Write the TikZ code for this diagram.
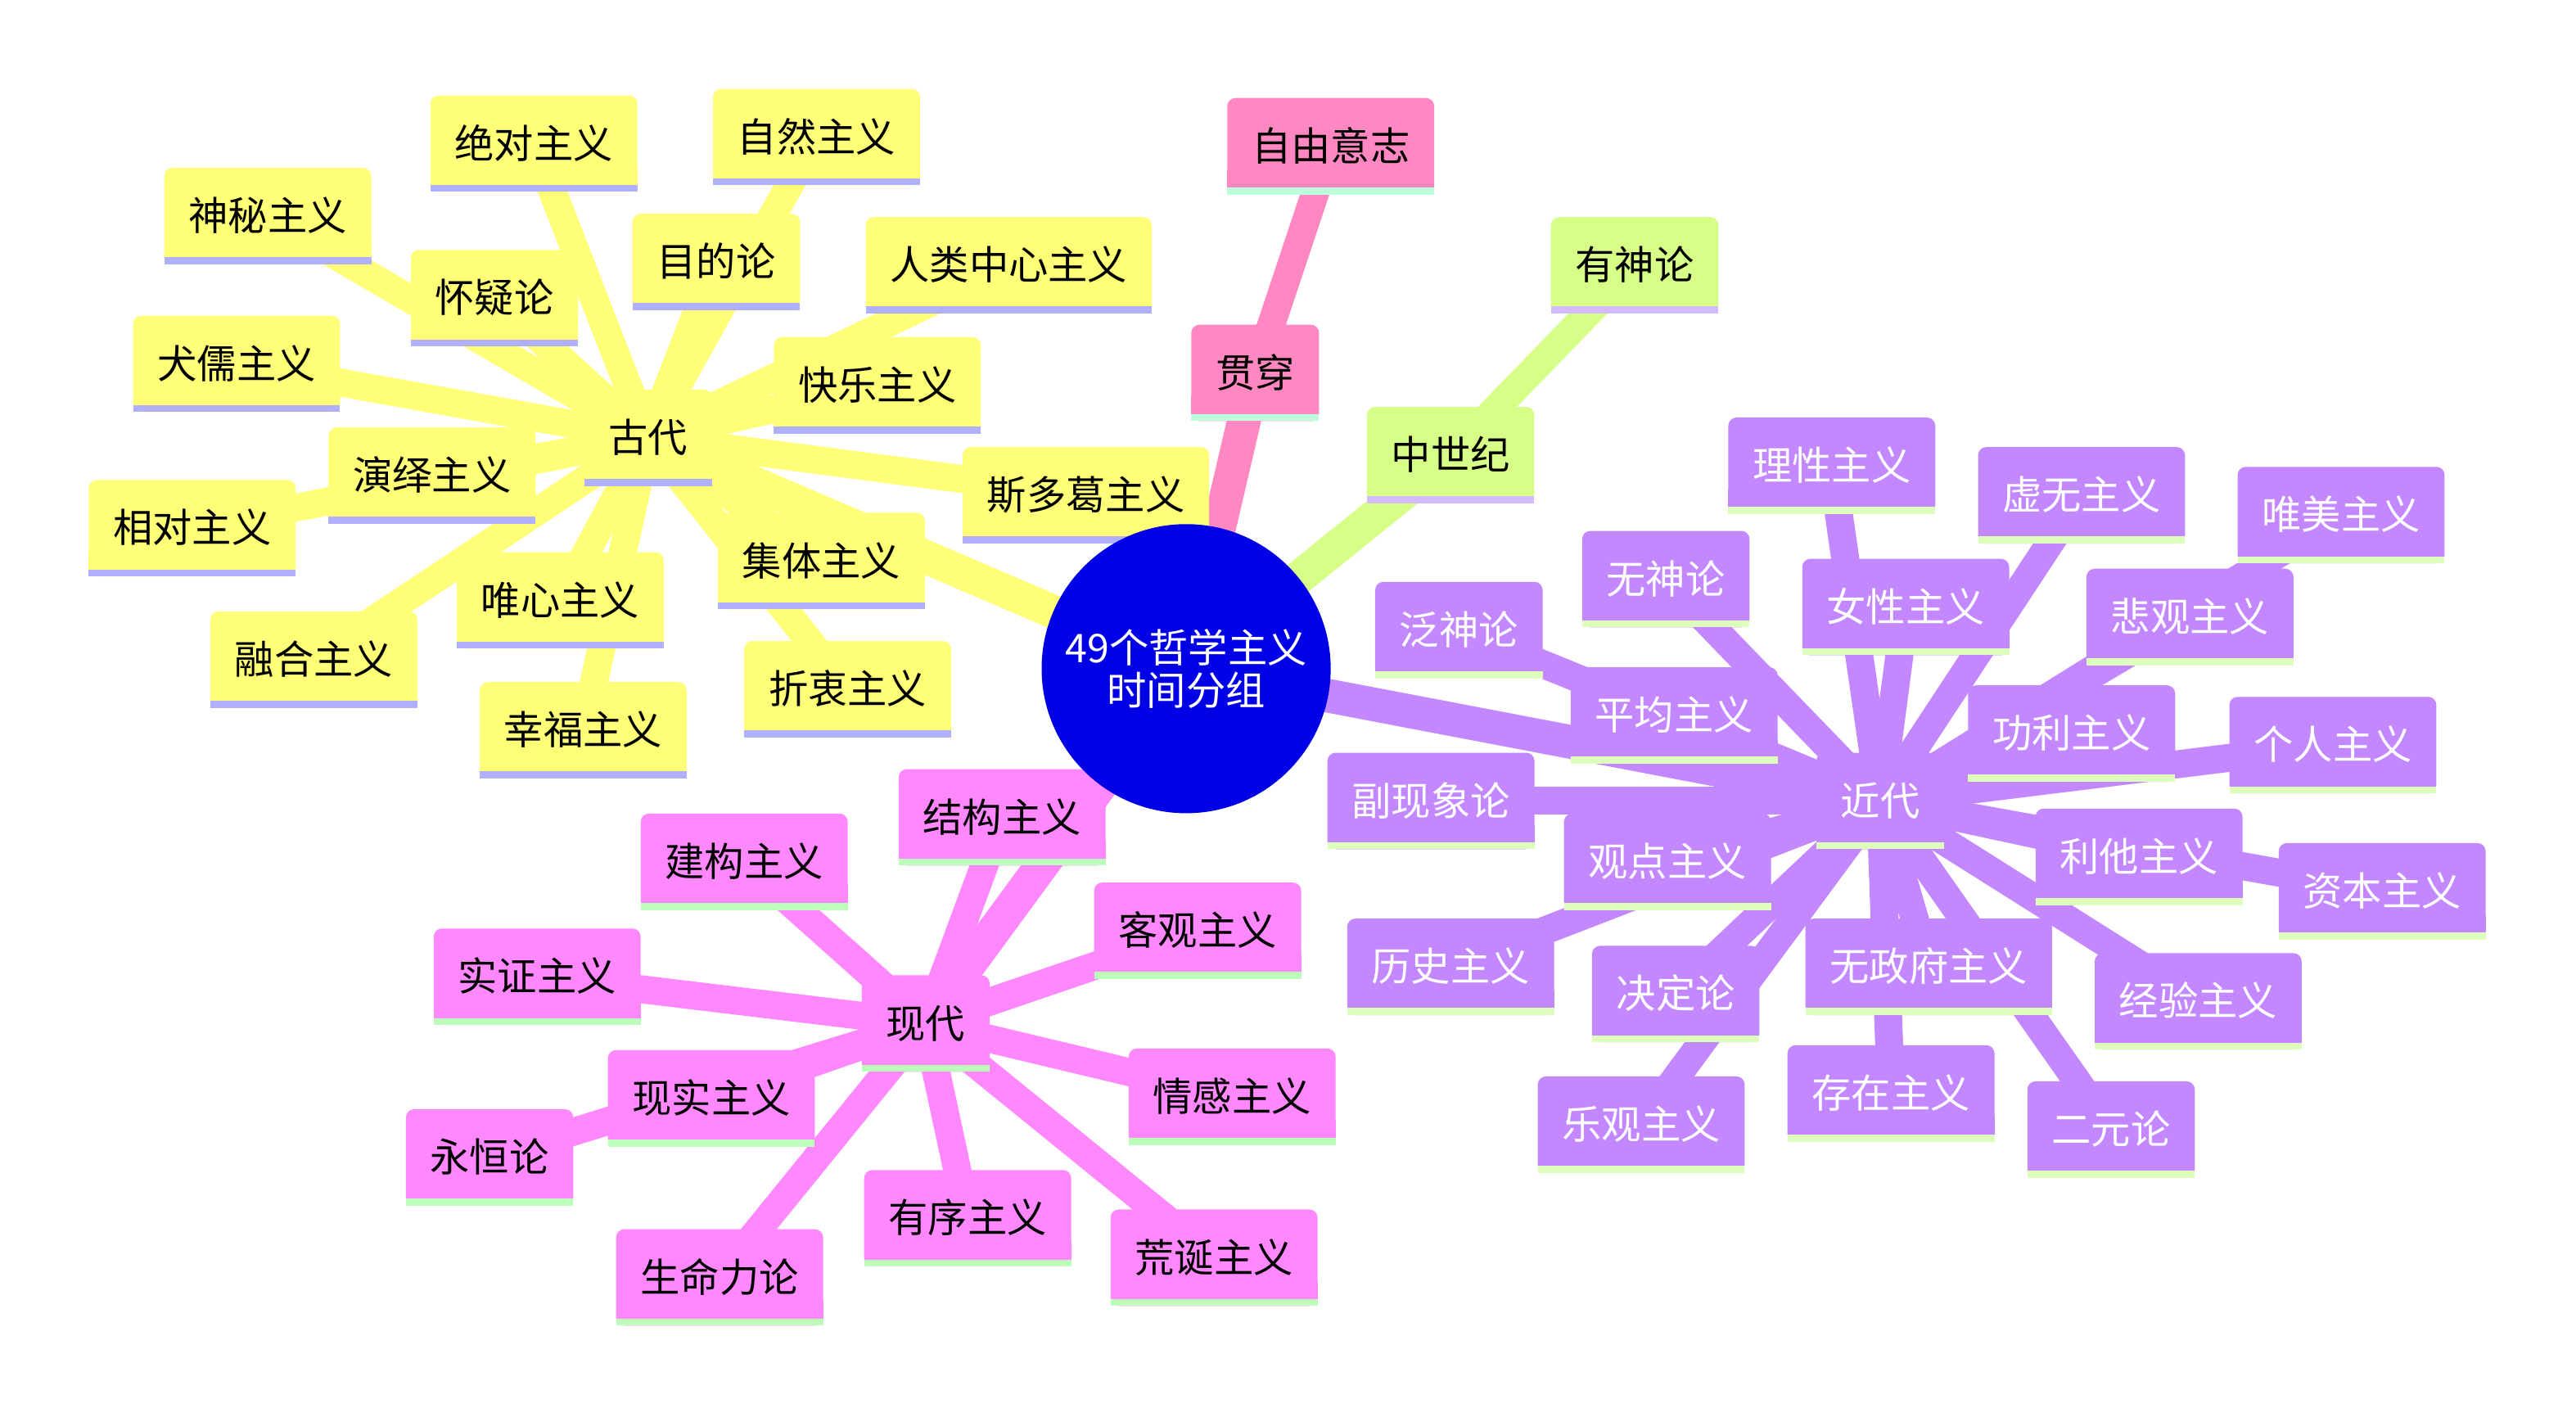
\documentclass[tikz,border=0pt]{standalone}
\usepackage{fontspec}
\newfontfamily\cjk{Noto Sans CJK SC}
\pgfdeclarelayer{bgwhite}
\pgfdeclarelayer{edges}
\pgfdeclarelayer{boxes}
\pgfsetlayers{bgwhite,edges,boxes,main}
\definecolor{rootF}{HTML}{0000E6}
\definecolor{gdF}{HTML}{FFFF78}\definecolor{gdL}{HTML}{B0B0FF}\definecolor{gdT}{HTML}{000000}
\definecolor{gcF}{HTML}{FF88C3}\definecolor{gcL}{HTML}{BBFFDD}\definecolor{gcT}{HTML}{000000}
\definecolor{zsF}{HTML}{D7FF88}\definecolor{zsL}{HTML}{D4BBFF}\definecolor{zsT}{HTML}{000000}
\definecolor{jdF}{HTML}{C388FF}\definecolor{jdL}{HTML}{DDFFBB}\definecolor{jdT}{HTML}{FFFFFF}
\definecolor{xdF}{HTML}{FF88FF}\definecolor{xdL}{HTML}{BBFFBB}\definecolor{xdT}{HTML}{000000}
\tikzset{
  mmtext/.style={font=\cjk\fontsize{13.7}{15}\selectfont, inner xsep=0.29cm, inner ysep=0pt,
    minimum height=1.16cm, text height=1.0em, text depth=0em},
  rootedge/.style={line width=0.41cm},
  childedge/.style={line width=0.34cm},
}
% name, x, y, section, text
\newcommand\mmnode[5]{%
  \node[mmtext, text=#4T] (#1) at (#2,#3) {#5};
  \begin{pgfonlayer}{boxes}
    \fill[#4F, rounded corners=0.1cm] (#1.south west) rectangle (#1.north east);
    \fill[#4F] (#1.south west) rectangle ([yshift=0.3cm]#1.south east);
    \fill[#4L] (#1.south west) rectangle ([yshift=0.085cm]#1.south east);
  \end{pgfonlayer}
}
\newcommand\mmedge[4]{% section, width style, from, to
  \begin{pgfonlayer}{edges}
    \draw[#2, #1F] (#3.center) -- (#4.center);
  \end{pgfonlayer}
}
\begin{document}
\begin{tikzpicture}[x=0.02cm, y=-0.02cm]
\useasboundingbox (0,0) rectangle (1568,857);
\begin{pgfonlayer}{bgwhite}
\fill[white] (0,0) rectangle (1568,857);
\end{pgfonlayer}
% root
\node[circle, fill=rootF, minimum size=3.52cm, inner sep=0pt, text=white, align=center,
  font=\cjk\fontsize{13.7}{14.8}\selectfont] (root) at (722,407) {49个哲学主义\\时间分组};

% sections
\mmnode{gd}{394.5}{266.5}{gd}{古代}
\mmnode{gc}{764}{227}{gc}{贯穿}
\mmnode{zs}{883}{277}{zs}{中世纪}
\mmnode{jd}{1144.5}{487.5}{jd}{近代}
\mmnode{xd}{563.5}{623}{xd}{现代}

\foreach \s in {gd,gc,zs,jd,xd}{\mmedge{\s}{rootedge}{root}{\s}}

% 古代
\mmnode{g1}{325}{87.5}{gd}{绝对主义}
\mmnode{g2}{497}{83.5}{gd}{自然主义}
\mmnode{g3}{163}{131.5}{gd}{神秘主义}
\mmnode{g4}{436}{159.5}{gd}{目的论}
\mmnode{g5}{614}{161.5}{gd}{人类中心主义}
\mmnode{g6}{301}{181.5}{gd}{怀疑论}
\mmnode{g7}{144}{221.5}{gd}{犬儒主义}
\mmnode{g8}{534}{234.5}{gd}{快乐主义}
\mmnode{g9}{263}{289.5}{gd}{演绎主义}
\mmnode{g10}{661}{301.5}{gd}{斯多葛主义}
\mmnode{g11}{117}{321.5}{gd}{相对主义}
\mmnode{g12}{500}{341.5}{gd}{集体主义}
\mmnode{g13}{341}{365.5}{gd}{唯心主义}
\mmnode{g14}{191}{401.5}{gd}{融合主义}
\mmnode{g15}{516}{419.5}{gd}{折衷主义}
\mmnode{g16}{355}{444.5}{gd}{幸福主义}
\foreach \i in {1,...,16}{\mmedge{gd}{childedge}{gd}{g\i}}

% 贯穿
\mmnode{c1}{810}{89}{gc}{自由意志}
\mmedge{gc}{childedge}{gc}{c1}

% 中世纪
\mmnode{m1}{995}{161.5}{zs}{有神论}
\mmedge{zs}{childedge}{zs}{m1}

% 近代
\mmnode{j1}{1115}{283.5}{jd}{理性主义}
\mmnode{j2}{1267}{301.5}{jd}{虚无主义}
\mmnode{j3}{1425}{313.5}{jd}{唯美主义}
\mmnode{j4}{1014}{352.5}{jd}{无神论}
\mmnode{j5}{1160}{369.5}{jd}{女性主义}
\mmnode{j6}{888}{383.5}{jd}{泛神论}
\mmnode{j7}{1333}{375.5}{jd}{悲观主义}
\mmnode{j8}{1019}{435.5}{jd}{平均主义}
\mmnode{j9}{1261}{446.5}{jd}{功利主义}
\mmnode{j10}{1420}{453.5}{jd}{个人主义}
\mmnode{j11}{871}{487.5}{jd}{副现象论}
\mmnode{j12}{1302}{521.5}{jd}{利他主义}
\mmnode{j13}{1015}{524.5}{jd}{观点主义}
\mmnode{j14}{1450}{542.5}{jd}{资本主义}
\mmnode{j15}{883}{588.5}{jd}{历史主义}
\mmnode{j16}{1020}{605}{jd}{决定论}
\mmnode{j17}{1174}{588.5}{jd}{无政府主义}
\mmnode{j18}{1338}{609.5}{jd}{经验主义}
\mmnode{j19}{1151}{665.5}{jd}{存在主义}
\mmnode{j20}{1285}{687.5}{jd}{二元论}
\mmnode{j21}{999}{684.5}{jd}{乐观主义}
\foreach \i in {1,...,21}{\mmedge{jd}{childedge}{jd}{j\i}}

% 现代
\mmnode{x1}{610}{497.5}{xd}{结构主义}
\mmnode{x2}{453}{524.5}{xd}{建构主义}
\mmnode{x3}{729}{566.5}{xd}{客观主义}
\mmnode{x4}{327}{594.5}{xd}{实证主义}
\mmnode{x5}{433}{668.5}{xd}{现实主义}
\mmnode{x6}{750}{667.5}{xd}{情感主义}
\mmnode{x7}{298}{704.5}{xd}{永恒论}
\mmnode{x8}{589}{741.5}{xd}{有序主义}
\mmnode{x9}{739}{765.5}{xd}{荒诞主义}
\mmnode{x10}{438}{777.5}{xd}{生命力论}
\foreach \i in {1,...,10}{\mmedge{xd}{childedge}{xd}{x\i}}
\end{tikzpicture}
\end{document}
